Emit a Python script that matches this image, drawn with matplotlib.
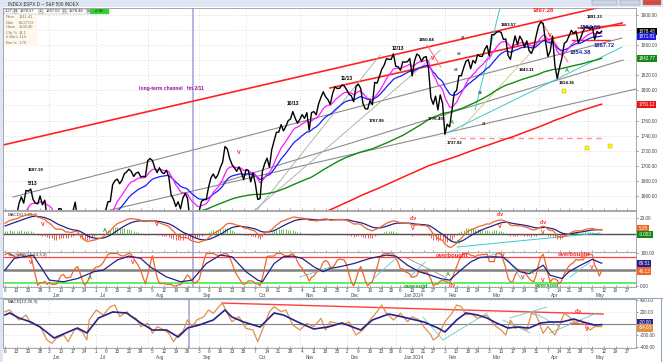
import numpy as np
import pandas as pd
import matplotlib
matplotlib.use('Agg')
import matplotlib.pyplot as plt
from matplotlib.patches import Rectangle
from matplotlib.transforms import blended_transform_factory as blend

plt.rcParams['font.family'] = ['Liberation Sans', 'DejaVu Sans']

W, H = 663, 362

# S&P 500 closes Jan 2 - May 3 2013 (left of the chart, only feeds the averages)
warmup_close = [
    1462.42, 1459.37, 1466.47, 1461.89, 1457.15, 1461.02, 1472.12, 1472.05, 1470.68, 1472.34,
    1472.63, 1480.94, 1485.98, 1492.56, 1494.81, 1494.82, 1502.96, 1500.18, 1507.84, 1501.96, 1498.11,
    1513.17, 1495.71, 1511.29, 1512.12, 1509.39, 1517.93, 1517.01, 1519.43, 1520.33, 1521.38,
    1519.79, 1530.94, 1511.95, 1502.42, 1515.60, 1487.85, 1496.94, 1515.99, 1514.68,
    1518.20, 1525.20, 1539.79, 1541.46, 1544.26, 1551.18, 1556.22, 1552.48, 1554.52, 1563.23,
    1560.70, 1552.10, 1548.34, 1558.71, 1545.80, 1556.89, 1551.69, 1563.77, 1562.85, 1569.19,
    1562.17, 1570.25, 1553.69, 1559.98, 1553.28, 1563.07, 1568.61, 1587.73, 1593.37, 1588.85,
    1552.36, 1574.57, 1552.01, 1541.61, 1555.25, 1562.50, 1578.78, 1578.79, 1585.16, 1582.24,
    1593.61, 1597.57,
    1582.70, 1597.59, 1614.42,
]

# S&P 500 closes May 6 2013 - May 9 2014 (what the chart shows)
close = [
    # May 2013
    1617.50, 1625.96, 1632.69, 1626.67, 1633.70, 1633.77, 1650.34, 1658.78, 1650.47, 1667.47,
    1666.29, 1669.16, 1655.35, 1650.51, 1649.60, 1660.06, 1648.36, 1654.41, 1630.74,
    # Jun
    1640.42, 1631.38, 1608.90, 1622.56, 1643.38, 1642.81, 1626.13, 1612.52, 1636.36, 1626.73,
    1639.04, 1651.81, 1628.93, 1588.19, 1592.43, 1573.09, 1588.03, 1603.26, 1613.20, 1606.28,
    # Jul
    1614.96, 1614.08, 1615.41, 1631.89, 1640.46, 1652.32, 1652.62, 1675.02, 1680.19, 1682.50,
    1676.26, 1680.91, 1689.37, 1692.09, 1695.53, 1692.39, 1685.94, 1690.25, 1691.65, 1685.33,
    1685.96, 1685.73,
    # Aug
    1706.87, 1709.67, 1707.14, 1697.37, 1690.91, 1697.48, 1691.42, 1689.47, 1694.16, 1685.39,
    1661.32, 1655.83, 1646.06, 1652.35, 1642.80, 1656.96, 1663.50, 1656.78, 1630.48, 1634.96,
    1638.17, 1632.97,
    # Sep
    1639.77, 1653.08, 1655.08, 1655.17, 1671.71, 1683.99, 1689.13, 1683.42, 1687.99, 1697.60,
    1704.76, 1725.52, 1722.34, 1709.91, 1701.84, 1697.42, 1692.77, 1698.67, 1691.75, 1681.55,
    # Oct
    1695.00, 1693.87, 1678.66, 1690.50, 1676.12, 1655.45, 1656.40, 1692.56, 1703.20, 1710.14,
    1698.06, 1721.54, 1733.15, 1744.50, 1744.66, 1754.67, 1746.38, 1752.07, 1759.77, 1762.11,
    1771.95, 1763.31, 1756.54,
    # Nov
    1761.64, 1767.93, 1762.97, 1770.49, 1747.15, 1770.61, 1771.89, 1767.69, 1782.00, 1790.62,
    1798.18, 1791.53, 1787.87, 1781.37, 1795.85, 1804.76, 1802.48, 1802.75, 1807.23, 1805.81,
    # Dec
    1800.90, 1795.15, 1792.81, 1785.03, 1805.09, 1808.37, 1802.62, 1782.22, 1775.50, 1775.32,
    1786.54, 1781.00, 1810.65, 1809.60, 1818.32, 1827.99, 1833.32, 1842.02, 1841.40, 1841.07,
    1848.36,
    # Jan 2014
    1831.98, 1831.37, 1826.77, 1837.88, 1837.49, 1838.13, 1842.37, 1819.20, 1838.88, 1848.38,
    1845.89, 1838.70, 1843.80, 1844.86, 1828.46, 1790.29, 1781.56, 1792.50, 1774.20, 1794.19,
    1782.59,
    # Feb
    1741.89, 1755.20, 1751.64, 1773.43, 1797.02, 1799.84, 1819.75, 1819.26, 1829.83, 1838.63,
    1840.76, 1828.75, 1839.78, 1836.25, 1847.61, 1845.12, 1845.16, 1854.29, 1859.45,
    # Mar
    1845.73, 1873.91, 1873.81, 1877.03, 1878.04, 1877.17, 1867.63, 1868.20, 1846.34, 1841.13,
    1858.83, 1872.25, 1860.77, 1872.01, 1866.52, 1857.44, 1865.62, 1852.56, 1849.04, 1857.62,
    1872.34,
    # Apr
    1885.52, 1890.90, 1888.77, 1865.09, 1845.04, 1851.96, 1872.18, 1833.08, 1815.69, 1830.61,
    1842.98, 1862.31, 1864.85, 1871.89, 1879.55, 1875.39, 1878.61, 1863.40, 1869.43, 1878.33,
    1883.95,
    # May
    1883.68, 1881.14, 1884.66, 1867.72, 1878.21, 1875.63, 1878.48,
]

# stochastic panel, slow (navy) line: bar index / value
stoch_idx = [0, 4, 12, 19, 25, 31, 38, 42, 48, 53, 58, 62, 69, 75, 80, 86, 92, 97, 103, 108,
             110, 115, 119, 123, 127, 132, 136, 139, 143, 149, 156, 163, 167, 172, 177, 182, 186,
             190, 194, 199, 203, 209, 213, 216, 220, 224, 230, 233, 238, 241, 246, 251, 255]
stoch_slow = [49, 85, 95, 18, 13, 23, 44, 49, 80, 92, 85, 59, 28, 13, 18, 69, 95, 90, 44, 18,
              13, 69, 90, 92, 85, 59, 44, 54, 59, 69, 85, 95, 92, 64, 44, 33, 23,
              18, 44, 74, 88, 90, 88, 69, 44, 38, 64, 33, 23, 44, 64, 82, 70]

# lower window oscillator
osc_idx = [0, 2, 6, 9, 11, 15, 18, 20, 22, 25, 27, 30, 33, 35, 36, 39, 42, 45, 47, 49, 52, 54, 56,
           58, 61, 63, 65, 68, 70, 72, 74, 76, 78, 80, 82, 85, 87, 89, 92, 93, 95, 97, 100, 103,
           106, 108, 110, 113, 115, 118, 120, 123, 126, 129, 132, 135, 137, 139, 142, 145, 147,
           150, 153, 156, 159, 161, 163, 166, 169, 172, 174, 177, 179, 182, 183, 185, 188, 191,
           193, 195, 197, 199, 202, 204, 206, 209, 212, 214, 216, 218, 220, 223, 225, 227, 230,
           232, 235, 237, 239, 241, 244, 246, 248, 250, 252, 255]
osc_fast = [202, 231, 60, 145, 3, -54, -282, -339, -254, -197, -311, -83, -140, -282, 60, 231,
            145, 288, 316, 117, 202, 117, 88, -54, 3, -168, -54, -111, -168, -311, -197, -140, 60,
            -54, 60, 117, 231, 174, 316, 345, 174, 31, 117, -83, -111, -311, -111, 202, 288, 202,
            231, -26, -111, 3, -54, 88, -111, 31, 3, -26, 31, -197, -111, 60, 202, 316, 174, 60,
            174, 31, 117, 60, -54, -197, -282, -225, 31, 174, 316, 288, 145, 174, 88, 117, 145,
            -26, -111, -197, 60, -83, -54, -111, 174, 145, -168, -54, -197, -26, 174, 117, 3, 60,
            -26, -111, -54, -54]
osc_slow_idx = [0, 2, 6, 11, 15, 21, 26, 31, 35, 40, 46, 52, 58, 63, 69, 74, 78, 83, 89, 94, 97,
                102, 109, 115, 119, 126, 132, 138, 144, 152, 157, 164, 170, 179, 185, 188, 193,
                197, 202, 206, 210, 215, 219, 224, 229, 233, 238, 243, 247, 252, 255]
osc_slow = [145, 180, 94, 26, -60, -248, -162, -77, -162, 94, 197, 180, 9, -111, -111, -231, -77,
            -26, 60, 231, 111, 26, -60, 180, 145, 9, -94, -60, 9, -111, 60, 162, 111, 26, -77,
            -145, 60, 180, 145, 94, 9, -77, -60, -77, 9, 26, 26, 77, 26, -26, -20]

holidays = ['2013-01-21', '2013-02-18', '2013-03-29', '2013-05-27', '2013-07-04', '2013-09-02',
            '2013-11-28', '2013-12-25', '2014-01-01', '2014-01-20', '2014-02-17', '2014-04-18',
            '2014-05-26']
days = pd.bdate_range('2013-01-02', '2014-06-06')
days = days[~days.isin(pd.to_datetime(holidays))]
n0 = len(warmup_close)
dates = days[n0:]

s = pd.Series(warmup_close + close, dtype=float)
xs = np.arange(len(s)) - n0
ema10 = s.ewm(span=10, adjust=False).mean()
ema20 = s.ewm(span=20, adjust=False).mean()
sma100 = s.rolling(100).mean()
sma200 = s.rolling(200).mean()
macd = s.ewm(span=12, adjust=False).mean() - s.ewm(span=26, adjust=False).mean()
signal = macd.ewm(span=9, adjust=False).mean()
hist = macd - signal
d = s.diff()
up = d.clip(lower=0).ewm(alpha=1/14, adjust=False).mean()
dn = (-d.clip(upper=0)).ewm(alpha=1/14, adjust=False).mean()
rsi = 100 - 100 / (1 + up / dn)
lo, hi = rsi.rolling(14).min(), rsi.rolling(14).max()
stoch_fast = ((rsi - lo) / (hi - lo) * 100).rolling(3).mean()

vis = xs >= 0
XL = (-0.85, 269.66)

fig = plt.figure(figsize=(W / 100, H / 100), dpi=100, facecolor='white')


def panel(x0, y0, x1, y1):
    ax = fig.add_axes([x0 / W, 1 - y1 / H, (x1 - x0) / W, (y1 - y0) / H])
    ax.set_xlim(XL)
    ax.yaxis.tick_right()
    ax.tick_params(axis='y', labelsize=3.4, length=1.5, pad=1.5, colors='#444444', width=0.4)
    ax.tick_params(axis='x', length=1.5, width=0.4, colors='#666666', labelbottom=False,
                   direction='in')
    for sp in ax.spines.values():
        sp.set_color('#9a9a9a')
        sp.set_linewidth(0.6)
    return ax


# week and month positions
week_pos, week_lab, month_lab, month_pos = [], [], [], []
prev_week = None
day_month = dates[0].month
label_month = dates[0].month
for i, dd in enumerate(dates):
    if i > XL[1]:
        break
    wk = dd.isocalendar()[1]
    if wk != prev_week:
        week_pos.append(i)
        week_lab.append(str(dd.day))
        if dd.month != label_month:
            month_lab.append((i, dd.strftime('%b') + (' 2014' if dd.month == 1 else '')))
            label_month = dd.month
        prev_week = wk
    if dd.month != day_month:
        month_pos.append(i)
        day_month = dd.month


def grid(ax, yt, hidden=()):
    # labels under a value box are not shown, as in the source chart
    ax.set_yticks(yt)
    ax.set_yticklabels(['' if v in hidden else '%.2f' % v for v in yt])
    for v in yt:
        ax.axhline(v, color='#bdbdbd', lw=0.5, ls=(0, (1, 3)), zorder=0)
    for p in month_pos:
        ax.axvline(p, color='#bdbdbd', lw=0.5, ls=(0, (1, 3)), zorder=0)
    ax.set_xticks(week_pos)


def value_box(ax, y, txt, fc, tc='white'):
    ax.text(1.004, y, txt, transform=blend(ax.transAxes, ax.transData), fontsize=3.3,
            color=tc, ha='left', va='center', clip_on=False,
            bbox=dict(boxstyle='square,pad=0.25', fc=fc, ec='none'))


def date_labels(ax, dy, my):
    tr = blend(ax.transData, ax.transAxes)
    for p, t in zip(week_pos, week_lab):
        ax.text(p, dy, t, transform=tr, fontsize=3.3, color='#444444', ha='center', va='center',
                clip_on=False)
    for p, t in month_lab:
        ax.text(p + 1.5, my, t, transform=tr, fontsize=3.3, color='#444444', ha='left',
                va='center', clip_on=False)


def seg(ax, pts, color, lw=0.7, ls='-'):
    for (a, b, c, e) in pts:
        ax.plot([a, c], [b, e], color=color, lw=lw, ls=ls, zorder=2)


def notes(ax, items, weight='bold'):
    for (t, a, b, color, fs) in items:
        ax.text(a, b, t, color=color, fontsize=fs, fontweight=weight, ha='center', va='center',
                zorder=6)


# ---------------- price panel
ax = panel(3, 8, 636, 210)
ax.set_ylim(1641.4, 1909.3)
grid(ax, list(range(1660, 1901, 20)), hidden=(1880, 1840, 1780))
ax.axvline(80.3, color='#a8a8d8', lw=1.2, zorder=1)
seg(ax, [(-0.85, 1727.6, 258.5, 1913.3), (138.9, 1803.2, 263.7, 1889.4)], '#ff2222', 1.2)
seg(ax, [(244.9, 1882.8, 265.0, 1886.7), (242.3, 1866.8, 258.5, 1866.8)], '#ff2222', 1.0)
seg(ax, [(228.6, 1893.4, 240.6, 1837.7), (180.3, 1860.2, 186.3, 1831.0)], '#ff7070', 0.7)
seg(ax, [(3.4, 1658.6, 263.7, 1869.5), (44.9, 1641.4, 269.7, 1801.9),
         (91.9, 1677.2, 264.1, 1840.3)], '#8c8c8c', 0.8)
seg(ax, [(107.7, 1641.4, 160.3, 1847.0), (106.8, 1641.4, 186.0, 1853.0)], '#a8a8a8', 0.6)
seg(ax, [(194.4, 1747.5, 230.8, 1870.8)], '#d8cc90', 0.7)
seg(ax, [(188.9, 1743.5, 263.7, 1857.6), (200.9, 1774.0, 211.5, 1909.3)], '#40c8c8', 0.7)
seg(ax, [(190.2, 1736.9, 256.4, 1736.9)], '#ff9090', 1.0, (0, (4, 3)))
ax.plot(xs[vis], sma200[vis], color='#ff1a1a', lw=1.1, zorder=3)
ax.plot(xs[vis], sma100[vis], color='#138a13', lw=1.0, zorder=3)
ax.plot(xs[vis], ema20[vis], color='#1a1aff', lw=0.9, zorder=3)
ax.plot(xs[vis], ema10[vis], color='#ff1aff', lw=0.9, zorder=3)
ax.plot(xs[vis], s[vis], color='black', lw=1.0, zorder=4)
ax.scatter([248.7, 258.5, 238.9], [1723.6, 1726.3, 1799.2], marker='s', s=5, c='#ffff00',
           edgecolors='#b0a000', linewidths=0.3, zorder=5)
notes(ax, [
    ('long-term channel   fm 2/11', 71, 1803, '#9a109a', 3.6),
    ('1687.18', 13, 1694, 'black', 3.2), ('5/13', 12, 1677, 'black', 3.6),
    ('10/13', 123, 1783, 'black', 3.6), ('11/13', 146, 1816, 'black', 3.6),
    ('12/13', 168, 1856, 'black', 3.6), ('1850.84', 180, 1867, 'black', 3.2),
    ('1767.99', 159, 1759, 'black', 3.2), ('1776.40', 184, 1762, 'black', 3.2),
    ('1737.92', 192, 1730, 'black', 3.2), ('1883.57', 215, 1887, 'black', 3.2),
    ('1897.28', 230, 1906, '#ff2020', 4.2), ('1891.33', 252, 1897, 'black', 3.2),
    ('1884.66', 250, 1884, '#2020a0', 4.2), ('1854.38', 246, 1850, '#2020a0', 4.2),
    ('1867.72', 256, 1859, '#2020a0', 4.2), ('1843.11', 223, 1827, 'black', 3.2),
    ('1814.36', 240, 1810, 'black', 3.2),
    ('V', 100, 1717, '#ff2020', 4.0), ('V', 183, 1842, '#ff2020', 4.0),
    ('V', 233, 1873, '#ff2020', 4.0),
    ('A', 191, 1757, '#20a020', 4.0), ('A', 240, 1826, '#20a020', 4.0),
    ('#1', 196, 1869, '#333333', 3.0), ('#2', 194, 1848, '#333333', 3.0),
    ('#3', 193, 1827, '#333333', 3.0), ('#4', 203, 1797, '#333333', 3.0),
    ('#1', 205, 1755, '#333333', 3.0),
])
value_box(ax, 1878.48, '1878.48', 'black')
value_box(ax, 1871.81, '1871.81', '#1a1ae0')
value_box(ax, 1842.77, '1842.77', '#138a13')
value_box(ax, 1781.12, '1781.12', '#ee1111')

# ---------------- MACD panel
ax = panel(3, 211, 636, 252)
ax.set_ylim(-22.5, 28.75)
grid(ax, [20])
ax.axvline(80.3, color='#a8a8d8', lw=1.2, zorder=1)
ax.axhline(0, color='#505050', lw=1.0, zorder=2)
hv = hist[vis].values
ax.vlines(xs[vis], 0, hv, colors=np.where(hv >= 0, '#4aa832', '#ee3030'), lw=0.55, zorder=2)
ax.plot(xs[vis], signal[vis], color='#22228a', lw=0.9, zorder=3)
ax.plot(xs[vis], macd[vis], color='#f0662a', lw=0.9, zorder=4)
seg(ax, [(193.2, -16.25, 254.3, 1.25)], '#40c8c8', 0.7)
ax.text(1, 26.5, 'MACD(12,26,9)', fontsize=3.2, color='#333333', va='top')
notes(ax, [
    ('V', 16.2, 12.5, '#ff2020', 4.0), ('V', 65, 12.5, '#ff2020', 4.0),
    ('V', 174.4, 7.5, '#ff2020', 4.0), ('V', 211.5, 8.75, '#ff2020', 4.0),
    ('V', 229.9, 2.5, '#ff2020', 4.0),
    ('div', 174.4, 18.75, '#ff2020', 3.4), ('div', 211.5, 23.75, '#ff2020', 3.4),
    ('div', 229.9, 13.75, '#ff2020', 3.4),
    ('A', 42.7, 3.75, '#20a020', 4.0), ('A', 193.6, -10, '#20a020', 4.0),
])
value_box(ax, 6.3, '5.35', '#f0662a')
value_box(ax, -0.5, '-0.003', '#138a13')

# ---------------- stochastic panel
ax = panel(3, 252, 636, 287)
ax.set_ylim(-3.1, 104.6)
grid(ax, [0, 100])
ax.axvline(80.3, color='#a8a8d8', lw=1.2, zorder=1)
ax.axhline(90, color='#ff4040', lw=0.9, zorder=2)
ax.axhline(50, color='#808080', lw=1.8, zorder=2)
ax.axhline(10, color='#44ee44', lw=1.2, zorder=2)
seg(ax, [(157.3, 21.5, 167.5, 89), (173.1, 27.7, 179.5, 73.8), (203, 86, 211.5, 101.5),
         (214.5, 86, 220.9, 18.5), (241.5, 27.7, 250, 73.8), (126, 27.7, 139, 58.5)],
    '#60c8c8', 0.6)
seg(ax, [(171.8, 86, 188.9, 24.6)], '#909090', 0.6)
ax.plot(xs[vis], stoch_fast[vis], color='#f0662a', lw=0.9, zorder=3)
ax.plot(stoch_idx, stoch_slow, color='#22228a', lw=0.9, zorder=4)
ax.text(1, 101, 'StochRSI(14,14,3,3)', fontsize=3.2, color='#333333', va='top')
notes(ax, [
    ('V', 11.1, 71, '#ff2020', 4.0), ('V', 54.7, 71, '#ff2020', 4.0),
    ('V', 212.8, 95, '#ff2020', 4.0), ('V', 221.4, 25, '#ff2020', 4.0),
    ('V', 229.9, 18, '#ff2020', 4.0), ('V', 250.9, 58, '#ff2020', 4.0),
    ('A', 36.3, 25, '#20a020', 4.0), ('A', 189.3, 34, '#20a020', 4.0),
    ('A', 225.2, 40, '#20a020', 4.0),
    ('overbought', 191, 95, '#ff2020', 4.2), ('overbought', 243, 97, '#ff2020', 4.2),
    ('oversold', 175.6, -2, '#20a020', 4.2), ('oversold', 231.6, 3, '#20a020', 4.2),
    ('div', 191, 1, '#ff2020', 3.4),
])
date_labels(ax, -0.1, -0.24)
value_box(ax, 69.51, '69.51', '#22228a')
value_box(ax, 46.13, '46.13', '#f0662a')

# ---------------- lower window oscillator
ax = panel(3, 299, 636, 348)
ax.set_ylim(-419, 419)
grid(ax, [-400, -200, 200, 400])
ax.axvline(78.6, color='#a8a8d8', lw=1.2, zorder=1)
ax.axhline(0, color='#808080', lw=0.8, zorder=2)
seg(ax, [(92.7, 350, 255.6, 162)], '#ff4040', 1.0)
seg(ax, [(178.6, 111, 187.2, -282), (187.2, -282, 206, 180), (212.8, 60, 224.4, -162),
         (215.8, 94, 231.6, 282), (225.6, 197, 237.2, -60), (232.9, -162, 253, 180)],
    '#70c8c8', 0.6)
seg(ax, [(241.5, 9, 251.3, -26)], '#ff4040', 0.8)
ax.plot(osc_idx, osc_fast, color='#e0904a', lw=0.9, zorder=3)
ax.plot(osc_slow_idx, osc_slow, color='#22228a', lw=1.2, zorder=4)
ax.text(1, 400, 'MACD(12,26,9)', fontsize=3.2, color='#333333', va='top')
notes(ax, [('div', 244.9, 197, '#ff2020', 3.4), ('V', 248.7, -111, '#ff2020', 4.0)])
date_labels(ax, -0.065, -0.19)
value_box(ax, 10, '-20.00', '#22228a')
value_box(ax, -75, '-54.00', '#e0904a')

# ---------------- window chrome, header boxes, info panel
ov = fig.add_axes([0, 0, 1, 1])
ov.set_xlim(0, W)
ov.set_ylim(H, 0)
ov.axis('off')
ov.patch.set_alpha(0)
ov.set_zorder(10)
ov.add_patch(Rectangle((0, 0), W, 7, fc='#dde6f2', ec='none'))
ov.text(8, 3.6, 'INDEX:$SPX.D -- S&P 500 INDEX', fontsize=3.3, color='#333333', va='center')
for (bx, bw, c) in [(592, 25, '#cdd5e0'), (620, 20, '#cdd5e0'), (643, 18, '#d84a3a')]:
    ov.add_patch(Rectangle((bx, 0), bw, 5, fc=c, ec='#8090a8', lw=0.3))
ov.add_patch(Rectangle((0, 7), 3, 291, fc='#dde6f2', ec='none'))
ov.plot([0, W], [297.5, 297.5], color='#8fa8c8', lw=0.8)
ov.plot([660.5, 660.5], [297.5, H], color='#8fa8c8', lw=0.8)
ov.add_patch(Rectangle((0, 298), 3, 64, fc='#dde6f2', ec='none'))
hdr = [(3.5, 9.5, '1.27', 'white', '#333333'), (13.5, 2.5, 'H', '#e6e6e6', '#333333'),
       (16.5, 22, '1878.57', 'white', '#333333'), (39, 3.5, 'L', '#e6e6e6', '#333333'),
       (43, 19.5, '1867.02', 'white', '#333333'), (63, 3, 'C', '#e6e6e6', '#333333'),
       (66.5, 19.5, '1878.48', 'white', '#333333'), (86.5, 2.5, 'S', '#e6e6e6', '#333333'),
       (89.5, 19, '+2.85', '#22dd22', '#222222')]
for (bx, bw, t, fc, tc) in hdr:
    ov.add_patch(Rectangle((bx, 8.5), bw, 5.5, fc=fc, ec='#9a9a9a', lw=0.3))
    ov.text(bx + bw / 2, 11.3, t, fontsize=3.0, color=tc, ha='center', va='center')
ov.add_patch(Rectangle((3.5, 14.5), 33, 31, fc='#fdf8ea', ec='none'))
info = [('Price', '1911.41'), ('Date', '05/27/13'), ('Close', '1630.40'), ('Chr %', '14.1'),
        ('# Bars', '-114'), ('Bar Ix', '-176')]
for k, (a, b) in enumerate(info):
    ov.text(6, 17.5 + 5 * k, a, fontsize=2.9, color='#777777', va='center')
    ov.text(19, 17.5 + 5 * k, b, fontsize=2.9, color='#777777', va='center')

fig.savefig('out.png', dpi=100, facecolor=fig.get_facecolor())
